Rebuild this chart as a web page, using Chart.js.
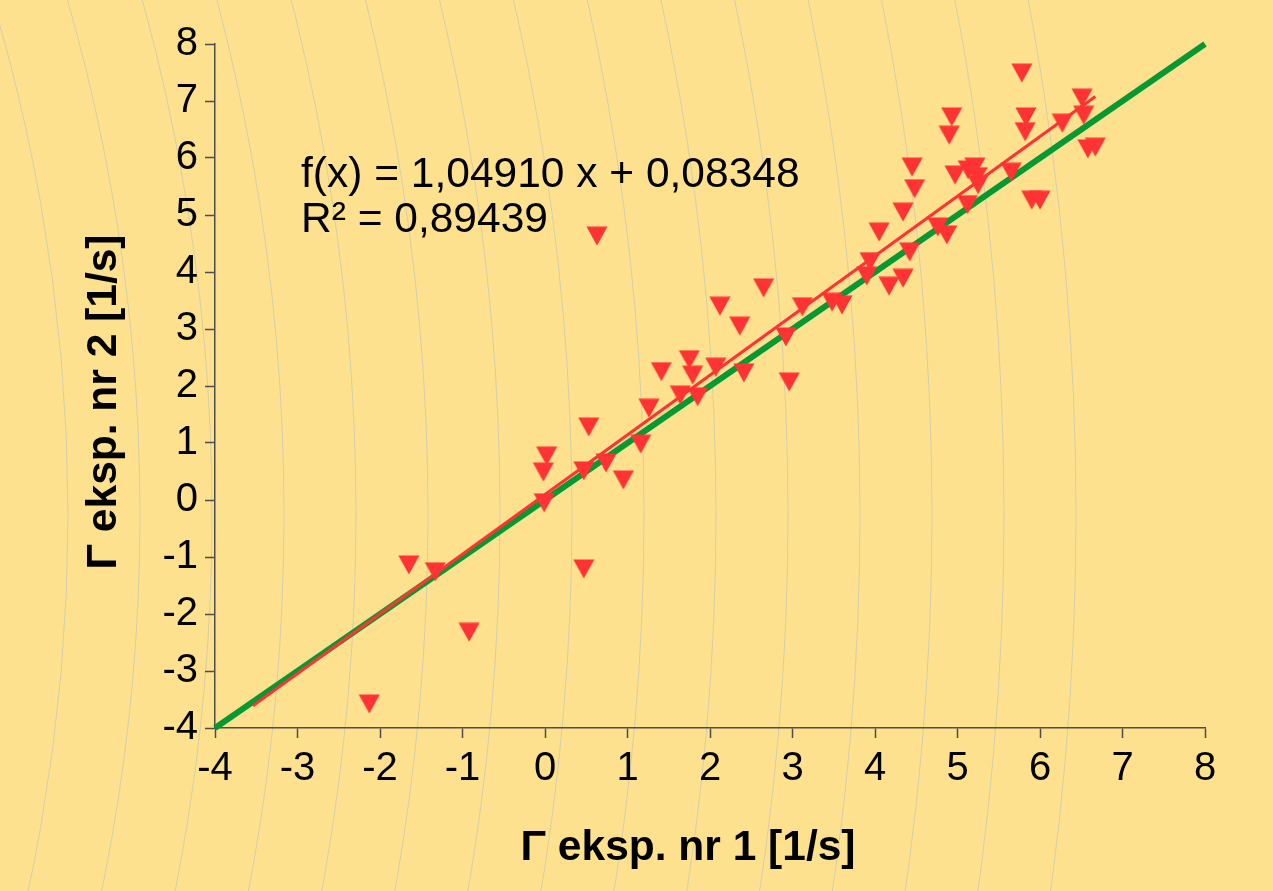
<!DOCTYPE html>
<html>
<head>
<meta charset="utf-8">
<script src="https://cdn.jsdelivr.net/npm/chart.js@4.4.0/dist/chart.umd.min.js"></script>
<style>
html,body{margin:0;padding:0;background:#fde18e;overflow:hidden}
#wrap{width:1273px;height:891px;position:relative}
</style>
</head>
<body>
<div id="wrap"><canvas id="c" width="1273" height="891"></canvas></div>
<script>
// ---- data ----
const xValues = [-2.13, -1.65, -1.33, -0.92, -0.02, 0.02, -0.01, 0.47, 0.53, 0.47,
  0.63, 0.74, 0.95, 1.16, 1.26, 1.41, 1.75, 1.79, 1.64, 1.85,
  2.07, 2.12, 2.36, 2.41, 2.65, 2.92, 2.96, 3.12, 3.48, 3.60,
  3.90, 3.94, 4.05, 4.17, 4.34, 4.34, 4.42, 4.45, 4.48, 4.76,
  4.87, 4.90, 4.93, 4.97, 5.12, 5.13, 5.21, 5.24, 5.25, 5.65,
  5.78, 5.83, 5.82, 5.90, 6.00, 6.27, 6.51, 6.53, 6.58, 6.67];
const yValues = [-3.58, -1.14, -1.26, -2.32, 0.49, 0.77, -0.05, 0.51, 1.28, -1.21,
  4.63, 0.65, 0.35, 0.98, 1.61, 2.25, 2.46, 2.19, 1.84, 1.81,
  2.33, 3.40, 3.05, 2.23, 3.72, 2.86, 2.07, 3.39, 3.47, 3.42,
  3.93, 4.18, 4.70, 3.75, 3.89, 5.05, 4.35, 5.84, 5.46, 4.79,
  4.65, 6.40, 6.72, 5.70, 5.18, 5.79, 5.84, 5.67, 5.53, 5.75,
  7.49, 6.72, 6.46, 5.26, 5.26, 6.61, 7.05, 6.75, 6.16, 6.19];
const trendX = [-3.54, 6.67];
const trendY = [-3.61, 7.08];
const refX = [-4, 8];
const refY = [-4, 8];
const xTickValues = [-4, -3, -2, -1, 0, 1, 2, 3, 4, 5, 6, 7, 8];
const yTickValues = [-4, -3, -2, -1, 0, 1, 2, 3, 4, 5, 6, 7, 8];
const equationLines = ['f(x) = 1,04910 x + 0,08348', 'R² = 0,89439'];
const xTitleText = 'Γ eksp. nr 1 [1/s]';
const yTitleText = 'Γ eksp. nr 2 [1/s]';

// ---- styles ----
const BG = '#fde18e';
const MARK = '#ff3333';
const GREEN = '#069933';
const AXIS = '#4d4d4d';
const FONT = '"Liberation Sans", Arial, sans-serif';

function zip(xs, ys) { return xs.map((x, i) => ({ x: x, y: ys[i] })); }

// down-pointing triangle marker, bounding box centred on the point
const tri = document.createElement('canvas');
tri.width = 22; tri.height = 20;
(function () {
  const g = tri.getContext('2d');
  g.fillStyle = MARK;
  g.beginPath();
  g.moveTo(0.5, 0.5); g.lineTo(21.5, 0.5); g.lineTo(11, 19.5); g.closePath();
  g.fill();
})();

const backgroundPlugin = {
  id: 'bg',
  beforeDraw(chart) {
    const ctx = chart.ctx;
    ctx.save();
    ctx.fillStyle = BG;
    ctx.fillRect(0, 0, chart.width, chart.height);
    ctx.strokeStyle = 'rgba(160,185,205,0.45)';
    ctx.lineWidth = 1;
    const cx = -1726, cy = 515;
    for (let k = -3; k <= 11; k++) {
      const R = 2010 + 72 * k;
      ctx.beginPath();
      ctx.arc(cx, cy, R, -0.35, 0.35);
      ctx.stroke();
    }
    ctx.restore();
  }
};

const textPlugin = {
  id: 'texts',
  afterDraw(chart) {
    const ctx = chart.ctx;
    ctx.save();
    ctx.fillStyle = '#000000';
    ctx.textBaseline = 'alphabetic';
    ctx.textAlign = 'left';
    ctx.font = '42.5px ' + FONT;
    ctx.fillText(equationLines[0], 301, 187);
    ctx.fillText(equationLines[1], 301, 232);
    ctx.font = 'bold 42.5px ' + FONT;
    ctx.textAlign = 'center';
    ctx.fillText(xTitleText, 688, 860);
    ctx.translate(116, 402);
    ctx.rotate(-Math.PI / 2);
    ctx.fillText(yTitleText, 0, 0);
    ctx.restore();
  }
};

new Chart(document.getElementById('c'), {
  type: 'scatter',
  data: {
    datasets: [
      {
        label: 'Γ',
        data: zip(xValues, yValues),
        pointStyle: tri,
        pointRadius: 10,
        pointHoverRadius: 10,
        backgroundColor: MARK,
        borderColor: MARK,
        showLine: false
      },
      {
        label: 'trend',
        type: 'line',
        data: zip(trendX, trendY),
        borderColor: MARK,
        borderWidth: 3,
        pointRadius: 0,
        fill: false,
        clip: false
      },
      {
        label: 'y = x',
        type: 'line',
        data: zip(refX, refY),
        borderColor: GREEN,
        borderWidth: 6,
        pointRadius: 0,
        fill: false,
        clip: false,
        borderCapStyle: 'butt'
      }
    ]
  },
  options: {
    responsive: false,
    devicePixelRatio: 1,
    animation: false,
    events: [],
    layout: { padding: { top: 44, right: 68, left: 0, bottom: 0 } },
    plugins: { legend: { display: false }, tooltip: { enabled: false }, title: { display: false } },
    scales: {
      x: {
        type: 'linear',
        min: -4, max: 8,
        afterBuildTicks(s) { s.ticks = xTickValues.map(v => ({ value: v })); },
        afterFit(s) { s.height = 163; },
        ticks: { font: { size: 40, family: FONT }, color: '#000', padding: 7, maxRotation: 0, autoSkip: false },
        grid: { drawOnChartArea: false, drawTicks: true, tickLength: 10, tickColor: AXIS, tickWidth: 1.5 },
        border: { color: AXIS, width: 1.5 }
      },
      y: {
        type: 'linear',
        min: -4, max: 8,
        afterBuildTicks(s) { s.ticks = yTickValues.map(v => ({ value: v })); },
        afterFit(s) { s.width = 215; },
        ticks: { font: { size: 40, family: FONT }, color: '#000', padding: 7, autoSkip: false },
        grid: { drawOnChartArea: false, drawTicks: true, tickLength: 10, tickColor: AXIS, tickWidth: 1.5 },
        border: { color: AXIS, width: 1.5 }
      }
    }
  },
  plugins: [backgroundPlugin, textPlugin]
});
</script>
</body>
</html>
